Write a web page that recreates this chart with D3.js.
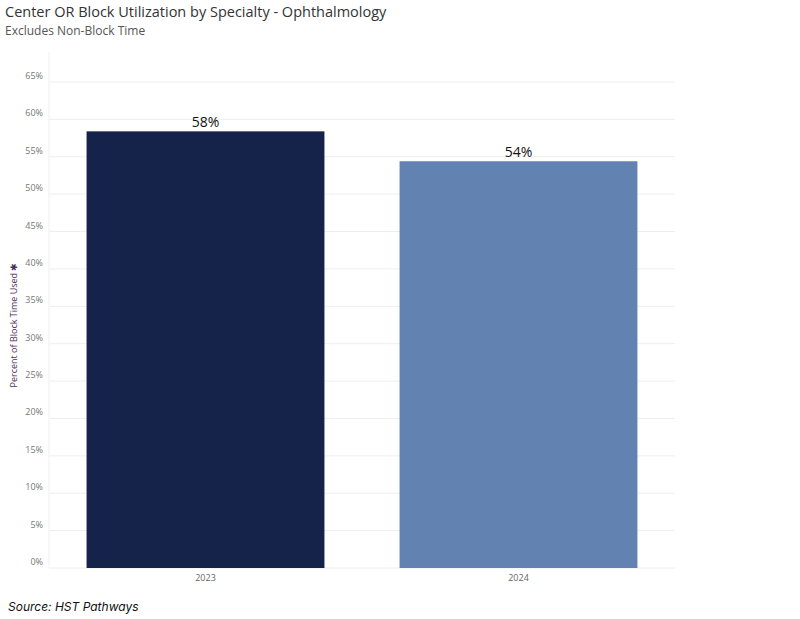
<!DOCTYPE html>
<html>
<head>
<meta charset="utf-8">
<script src="https://cdn.jsdelivr.net/npm/d3@7"></script>
<style>
  body { margin: 0; background: #fff; font-family: "Open Sans", sans-serif; }
</style>
</head>
<body>
<div class="chart"></div>
<script>
// Data.
const years = ['2023', '2024'];
const utilization = [58.4, 54.4];
const barColors = ['#15224a', '#6283b1'];
const yTicks = [0, 5, 10, 15, 20, 25, 30, 35, 40, 45, 50, 55, 60, 65];

const width = 800, height = 619;
const margin = {top: 82, right: 125, bottom: 51, left: 49};

const svg = d3.select('.chart').append('svg')
    .attr('width', width)
    .attr('height', height);

// Titles.
svg.append('text').attr('x', 5).attr('y', 17)
    .attr('font-size', 14.5).attr('fill', '#333')
    .text('Center OR Block Utilization by Specialty - Ophthalmology');
svg.append('text').attr('x', 5).attr('y', 35)
    .attr('font-size', 12).attr('fill', '#555')
    .text('Excludes Non-Block Time');

const x = d3.scaleBand()
    .domain(years)
    .range([margin.left, width - margin.right])
    .paddingInner(0.24)
    .paddingOuter(0.12);

const y = d3.scaleLinear()
    .domain([0, 65])
    .range([height - margin.bottom, margin.top]);

// Gridlines.
svg.append('g').selectAll('line')
    .data(yTicks)
    .join('line')
        .attr('x1', margin.left).attr('x2', width - margin.right)
        .attr('y1', d => y(d)).attr('y2', d => y(d))
        .attr('stroke', '#eee');

svg.append('line')
    .attr('x1', margin.left).attr('x2', margin.left)
    .attr('y1', margin.top - 30).attr('y2', height - margin.bottom)
    .attr('stroke', '#f0f0f0');

// Tick labels.
svg.append('g').selectAll('text')
    .data(yTicks)
    .join('text')
        .attr('x', 43).attr('y', d => y(d) - 3)
        .attr('text-anchor', 'end')
        .attr('font-size', 9).attr('fill', '#777')
        .text(d => d + '%');

// Bars.
svg.append('g').selectAll('rect')
    .data(years)
    .join('rect')
        .attr('x', d => x(d))
        .attr('width', x.bandwidth())
        .attr('y', (d, i) => y(utilization[i]))
        .attr('height', (d, i) => y(0) - y(utilization[i]))
        .attr('fill', (d, i) => barColors[i]);

// Value labels.
svg.append('g').selectAll('text')
    .data(years)
    .join('text')
        .attr('x', d => x(d) + x.bandwidth() / 2)
        .attr('y', (d, i) => y(utilization[i]) - 4)
        .attr('text-anchor', 'middle')
        .attr('font-size', 14).attr('fill', '#111')
        .text((d, i) => Math.floor(utilization[i]) + '%');

// X labels.
svg.append('g').selectAll('text')
    .data(years)
    .join('text')
        .attr('x', d => x(d) + x.bandwidth() / 2)
        .attr('y', height - margin.bottom + 13)
        .attr('text-anchor', 'middle')
        .attr('font-size', 9).attr('fill', '#666')
        .text(d => d);

// Y axis title.
svg.append('text')
    .attr('transform', `translate(17, ${(y(0) + y(65)) / 2}) rotate(-90)`)
    .attr('text-anchor', 'middle')
    .attr('font-size', 9).attr('fill', '#4b2f5e')
    .text('Percent of Block Time Used ✱');

// Source.
svg.append('text').attr('x', 8).attr('y', 611)
    .attr('font-size', 12).attr('font-style', 'italic').attr('fill', '#111')
    .attr('font-family', 'Inter, sans-serif')
    .text('Source: HST Pathways');
</script>
</body>
</html>
